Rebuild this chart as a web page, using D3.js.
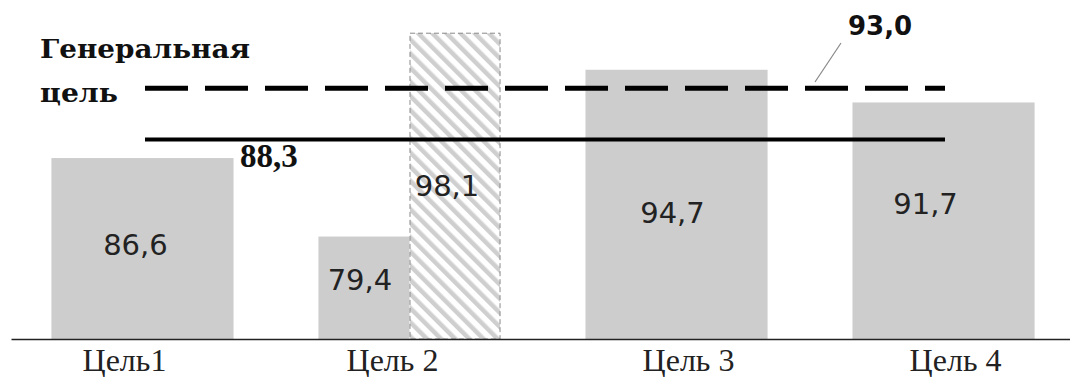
<!DOCTYPE html>
<html><head><meta charset="utf-8">
<script src="https://cdn.jsdelivr.net/npm/d3@7"></script>
<style>body{margin:0;background:#fff}svg{display:block}</style>
</head><body>
<svg id="c" width="1070" height="377"></svg>
<script>
// ---- data ----
const categories = ["Цель1", "Цель 2", "Цель 3", "Цель 4"];
const actualValues = [86.6, 79.4, 94.7, 91.7];
const planValues = [null, 98.1, null, null];       // hatched bar (Цель 2 only)
const generalTarget = 93.0;
const averageLevel = 88.3;
const generalLabel = ["Генеральная", "цель"];
const fmt = v => v.toFixed(1).replace(".", ",");

// ---- layout / style (not data) ----
const W = 1070, H = 377;
const valueNudge = [[-7, -4], [-4, -9], [-8, -1], [-4, 8], [-18, -17]]; // 86,6 79,4 98,1 94,7 91,7
const catNudge = [-18, -17, 12, 12];

const svg = d3.select("#c");
const defs = svg.append("defs");
const pat = defs.append("pattern").attr("id", "hatch")
  .attr("patternUnits", "userSpaceOnUse").attr("width", 10).attr("height", 10)
  .attr("patternTransform", "rotate(-45)");
pat.append("rect").attr("width", 10).attr("height", 10).attr("fill", "#fff");
pat.append("rect").attr("x", 0).attr("width", 4.5).attr("height", 10).attr("fill", "#cfcfcf");

const x = d3.scaleBand().domain(categories).range([11, 1070])
  .paddingInner(0.318).paddingOuter(0.142).align(0.533);
const y = d3.scaleLinear().domain([70, 100]).range([339, 12]);

const grp = svg.append("g");
categories.forEach((c, i) => {
  const hasPlan = planValues[i] != null;
  const sub = d3.scaleBand().domain(hasPlan ? ["a", "p"] : ["a"]).range([x(c), x(c) + x.bandwidth()]);
  grp.append("rect").attr("x", sub("a")).attr("width", sub.bandwidth())
    .attr("y", y(actualValues[i])).attr("height", y(70) - y(actualValues[i]))
    .attr("fill", "#cdcdcd");
  if (hasPlan) {
    grp.append("rect").attr("x", sub("p") + 0.5).attr("width", sub.bandwidth() - 1)
      .attr("y", y(planValues[i]) + 0.5).attr("height", y(70) - y(planValues[i]) - 0.5)
      .attr("fill", "url(#hatch)").attr("stroke", "#8a8a8a")
      .attr("stroke-width", 1).attr("stroke-dasharray", "5,3");
  }
});

// target lines
const lx0 = 145, lx1 = 945;
svg.append("line").attr("x1", lx0).attr("x2", lx1)
  .attr("y1", y(generalTarget)).attr("y2", y(generalTarget))
  .attr("stroke", "#000").attr("stroke-width", 5).attr("stroke-dasharray", "43,17");
svg.append("line").attr("x1", lx0).attr("x2", lx1)
  .attr("y1", y(averageLevel)).attr("y2", y(averageLevel))
  .attr("stroke", "#000").attr("stroke-width", 4);

// value labels inside bars
let k = 0;
categories.forEach((c, i) => {
  const hasPlan = planValues[i] != null;
  const sub = d3.scaleBand().domain(hasPlan ? ["a", "p"] : ["a"]).range([x(c), x(c) + x.bandwidth()]);
  const items = [["a", actualValues[i]]];
  if (hasPlan) items.push(["p", planValues[i]]);
  items.forEach(([key, v]) => {
    const n = valueNudge[k++];
    const cx = sub(key) + sub.bandwidth() / 2 + n[0];
    const cy = (y(v) + y(70)) / 2 + n[1];
    svg.append("text").attr("x", cx).attr("y", cy).attr("dy", "0.37em")
      .attr("text-anchor", "middle").attr("font-family", "DejaVu Sans")
      .attr("font-size", 29).attr("fill", "#222").text(fmt(v));
  });
});

// general target label + leader
svg.append("line").attr("x1", 815).attr("y1", 82).attr("x2", 841).attr("y2", 43)
  .attr("stroke", "#888").attr("stroke-width", 1.2);
svg.append("text").attr("x", 848).attr("y", 35).attr("font-family", "DejaVu Sans")
  .attr("font-weight", "bold").attr("font-size", 26).attr("fill", "#111").text(fmt(generalTarget));
svg.append("text").attr("x", 240).attr("y", 167).attr("font-family", "Liberation Serif")
  .attr("font-weight", "bold").attr("font-size", 33).attr("fill", "#111").text(fmt(averageLevel));
svg.append("text").attr("x", 40).attr("y", 58).attr("font-family", "DejaVu Serif")
  .attr("font-weight", "bold").attr("font-size", 26).attr("fill", "#111")
  .attr("textLength", 210).attr("lengthAdjust", "spacingAndGlyphs").text(generalLabel[0]);
svg.append("text").attr("x", 40).attr("y", 102).attr("font-family", "DejaVu Serif")
  .attr("font-weight", "bold").attr("font-size", 26).attr("fill", "#111")
  .attr("textLength", 78).attr("lengthAdjust", "spacingAndGlyphs").text(generalLabel[1]);

// axis
const ax = svg.append("g").attr("transform", `translate(0,${y(70)})`)
  .call(d3.axisBottom(x).tickSize(0).tickSizeOuter(0).tickPadding(0));
ax.select(".domain").attr("stroke", "#222").attr("stroke-width", 1.6);
ax.selectAll(".tick text").attr("font-family", "Liberation Serif").attr("font-size", 32)
  .attr("fill", "#222").attr("dy", 0).attr("y", 32)
  .attr("x", (d, i) => catNudge[i]);
</script>
</body></html>
